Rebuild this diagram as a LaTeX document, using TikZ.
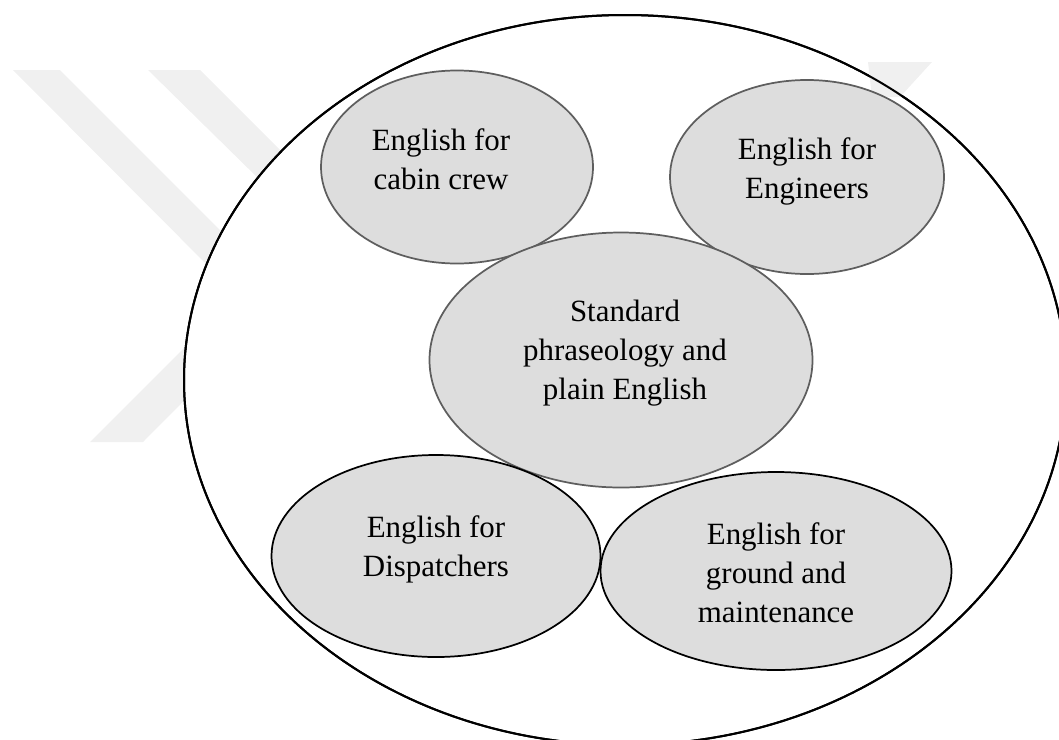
\documentclass[tikz,border=0pt]{standalone}
\usepackage{fontspec}
\setmainfont{Liberation Serif}
\usetikzlibrary{shapes.geometric}
\definecolor{bubblefill}{HTML}{DDDDDD}
\definecolor{softline}{HTML}{5E5E5E}
\definecolor{wmark}{HTML}{F0F0F0}
\begin{document}
\begin{tikzpicture}[x=0.75pt,y=-0.75pt,
  sz/.style 2 args={minimum width=#1*0.75pt,minimum height=#2*0.75pt},
  wm/.style={fill=wmark,draw=none},
  outerring/.style={ellipse,draw=black,line width=1.5pt,fill=white,inner sep=0pt},
  bubble/.style={ellipse,fill=bubblefill,line width=1.3pt,inner sep=0pt},
  topbubble/.style={bubble,draw=softline},
  lowbubble/.style={bubble,draw=black},
  lbl/.style={align=center,inner sep=0pt,anchor=north,font=\fontsize{23.2}{29.3}\selectfont}]
\useasboundingbox (0,0) rectangle (1059,739);
\clip (0,0) rectangle (1059,739);
% watermark
\fill[wm] (13,70) -- (60,70) -- (287,297) -- (143,442) -- (90,442) -- (237,295) -- cycle;
\fill[wm] (148,70) -- (200,70) -- (427,297) -- (283,442) -- (230,442) -- (377,295) -- cycle;
% outer ring
\node[outerring,sz={882}{730}] (outer) at (625,380) {};
\fill[wm] (868,62) -- (932,62) -- (900,97) -- (872,97) -- cycle;
\draw[line width=1.5pt] (outer.center) ellipse [x radius=441, y radius=365];
% bubbles
\node[topbubble,sz={272}{193}] (cabin) at (457,167) {};
\node[topbubble,sz={274}{194}] (eng) at (807,177) {};
\node[topbubble,sz={383}{255}] (core) at (621,360) {};
\node[lowbubble,sz={329}{202}] (disp) at (436,556) {};
\node[lowbubble,sz={351}{198}] (ground) at (776,571) {};
% labels
\node[lbl] (tcabin) at (441,128) {English for\\cabin crew};
\node[lbl] (teng) at (807,137) {English for\\Engineers};
\node[lbl] (tcore) at (625,300) {Standard\\phraseology and\\plain English};
\node[lbl] (tdisp) at (436,515) {English for\\Dispatchers};
\node[lbl] (tground) at (776,522) {English for\\ground and\\maintenance};
\end{tikzpicture}
\end{document}
